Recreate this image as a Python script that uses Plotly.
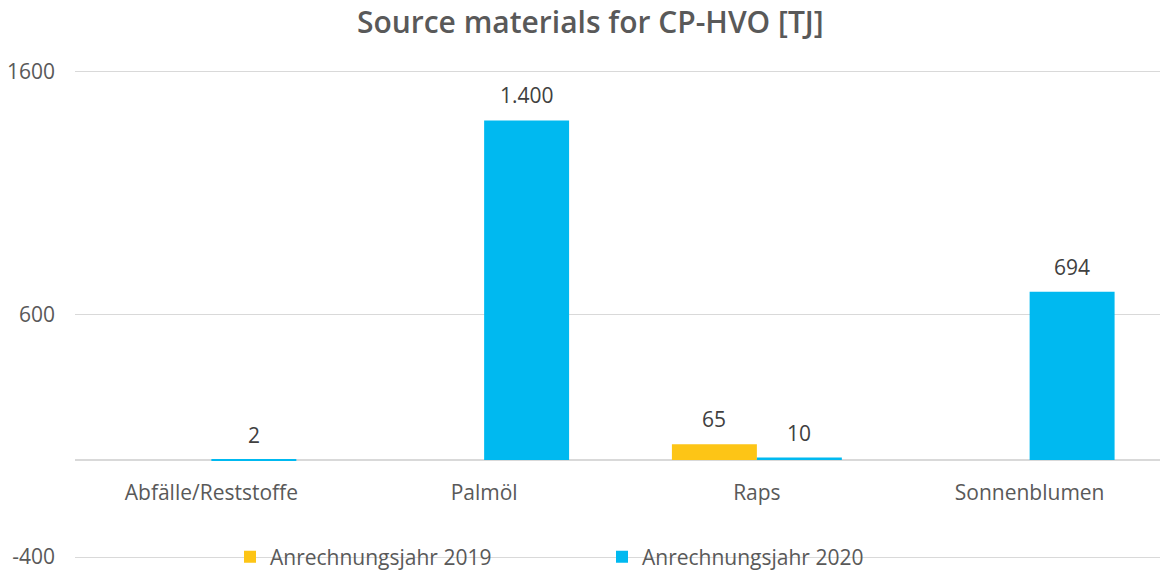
import plotly.graph_objects as go

categories = ["Abfälle/Reststoffe", "Palmöl", "Raps", "Sonnenblumen"]
series_names = ["Anrechnungsjahr 2019", "Anrechnungsjahr 2020"]
values_2019 = [None, None, 65, None]
values_2020 = [2, 1400, 10, 694]
y_ticks = [-400, 600, 1600]

colors = ["#FDC516", "#00B9F0"]
FONT = "Open Sans"
GRAY = "#595959"
LABEL = "#404040"
FS = 21

# the page body adds an 8px margin, so the figure is 8px smaller each way
W, H = 1160, 564

fig = go.Figure()
for name, vals, col in zip(series_names, [values_2019, values_2020], colors):
    fig.add_trace(go.Bar(
        x=categories, y=vals, name=name, marker_color=col,
        marker_line_width=0, cliponaxis=False,
    ))

# data labels above bars
BAR_HALF = 42.5
for i, vals in enumerate([values_2019, values_2020]):
    shift = -BAR_HALF if i == 0 else BAR_HALF
    for cat, v in zip(categories, vals):
        if v is None:
            continue
        fig.add_annotation(
            x=cat, y=v, xref="x", yref="y", text=f"{v:,}".replace(",", "."),
            showarrow=False, yanchor="bottom", xshift=shift, yshift=9,
            font=dict(family=FONT, size=FS, color=LABEL),
        )

fig.update_layout(
    width=W, height=H,
    margin=dict(l=67, r=2, t=62, b=13, autoexpand=False),
    paper_bgcolor="white", plot_bgcolor="white",
    separators=",.",
    barmode="group", bargap=0.377, bargroupgap=0,
    title=dict(text="Source materials for CP-HVO [TJ]", x=0.502, xanchor="center",
               xref="container", yref="container",
               y=1 - 14 / H, yanchor="middle",
               font=dict(family=FONT, size=30, color=GRAY, weight=600)),
    showlegend=True,
    legend=dict(orientation="h", xref="container", yref="container",
                x=222 / W, xanchor="left", y=(H - 549) / H, yanchor="middle",
                bgcolor="rgba(0,0,0,0)", font=dict(family=FONT, size=FS, color=GRAY),
                entrywidth=327, itemwidth=30, traceorder="normal"),
)
fig.update_xaxes(
    anchor="free", position=(0 - (-408)) / (1608 - (-408)), automargin=False,
    showline=False, showgrid=False, ticks="", ticklabelstandoff=18,
    tickfont=dict(family=FONT, size=FS, color=GRAY),
)
fig.update_yaxes(
    range=[-408, 1608], tickvals=y_ticks, ticktext=[str(v) for v in y_ticks],
    automargin=False,
    showgrid=True, gridcolor="#D9D9D9", gridwidth=1.3,
    zeroline=True, zerolinecolor="#D9D9D9", zerolinewidth=1.5,
    showline=False, ticks="", ticklabelstandoff=19,
    tickfont=dict(family=FONT, size=FS, color=GRAY),
)

fig.write_html("out.html")
